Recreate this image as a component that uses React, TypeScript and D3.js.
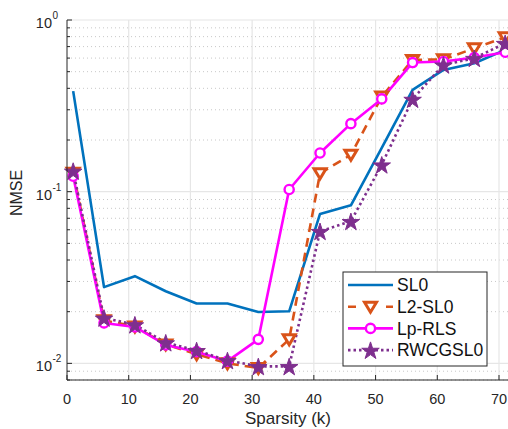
import React from "react"
import * as d3 from "d3"

// sparsity levels (x) and NMSE per method
const sparsity = [1, 6, 11, 16, 21, 26, 31, 36, 41, 46, 51, 56, 61, 66, 71]
const sl0 = [0.385, 0.0278, 0.0322, 0.0263, 0.0223, 0.0223, 0.0199, 0.0201, 0.0742, 0.0833, 0.18, 0.392, 0.512, 0.56, 0.67]
const l2sl0 = [0.129, 0.0178, 0.0164, 0.0129, 0.0113, 0.01, 0.0094, 0.0138, 0.128, 0.164, 0.358, 0.585, 0.59, 0.684, 0.793]
const lpRls = [0.123, 0.0172, 0.0163, 0.0128, 0.0117, 0.0103, 0.0138, 0.103, 0.168, 0.249, 0.347, 0.565, 0.573, 0.604, 0.649]
const rwcgsl0 = [0.132, 0.0184, 0.0168, 0.0132, 0.0119, 0.0104, 0.0096, 0.0096, 0.0588, 0.0672, 0.1435, 0.346, 0.548, 0.599, 0.732]

const xTicks = [0, 10, 20, 30, 40, 50, 60, 70]
const yDecades = [-2, -1, 0]
const seriesNames = ["SL0", "L2-SL0", "Lp-RLS", "RWCGSL0"]

const FONT = "'Liberation Sans', Arial, Helvetica, sans-serif"
const AXIS = "#262626"

const series = [
  { name: seriesNames[0], values: sl0, color: "#0072BD", dash: null, marker: "none" },
  { name: seriesNames[1], values: l2sl0, color: "#D95319", dash: "9,6", marker: "tri" },
  { name: seriesNames[2], values: lpRls, color: "#FF00FF", dash: null, marker: "circle" },
  { name: seriesNames[3], values: rwcgsl0, color: "#7E2F8E", dash: "2.5,3", marker: "star" },
]

const starPath = d3.symbol().type(d3.symbolStar).size(95)()

function Marker({ type, color, x, y }: { type: string; color: string; x: number; y: number }) {
  if (type === "tri")
    return (
      <path
        d="M0,5.5L-6,-4.5L6,-4.5Z"
        transform={`translate(${x},${y})`}
        fill="white"
        stroke={color}
        strokeWidth={3}
        strokeLinejoin="miter"
      />
    )
  if (type === "circle")
    return <circle cx={x} cy={y} r={4.6} fill="white" stroke={color} strokeWidth={2.4} />
  if (type === "star")
    return <path d={starPath || ""} transform={`translate(${x},${y + 1})`} fill={color} stroke={color} strokeWidth={1} />
  return null
}

export default function App() {
  const left = 67
  const top = 20
  const bottom = 380
  const x = d3.scaleLinear().domain([0, 70]).range([left, 499])
  const y = d3.scaleLog().domain([0.008, 1]).range([bottom, top])

  const line = d3
    .line<number>()
    .x((_, i) => x(sparsity[i]))
    .y((d) => y(d))

  // minor log ticks inside the domain
  const minor: number[] = []
  for (const e of [-3, -2, -1]) {
    for (let m = 2; m <= 9; m++) {
      const v = m * Math.pow(10, e)
      if (v >= 0.008 && v < 1) minor.push(v)
    }
  }

  const legX = 343
  const legY = 272
  const rowY = (i: number) => legY + 13 + i * 21.7

  return (
    <svg
      width={508}
      height={429}
      style={{ position: "absolute", left: 0, top: 0, background: "white" }}
      fontFamily={FONT}
    >
      {/* minor grid */}
      {minor.map((v) => (
        <line key={"mg" + v} x1={left} x2={508} y1={y(v)} y2={y(v)} stroke="#c8c8c8" strokeWidth={1} strokeDasharray="1,3" />
      ))}
      {/* major grid */}
      {yDecades.map((e) => (
        <line key={"gy" + e} x1={left} x2={508} y1={y(Math.pow(10, e))} y2={y(Math.pow(10, e))} stroke="#e6e6e6" strokeWidth={1.2} />
      ))}
      {xTicks.slice(1).map((t) => (
        <line key={"gx" + t} x1={x(t)} x2={x(t)} y1={top} y2={bottom} stroke="#e6e6e6" strokeWidth={1.2} />
      ))}

      {/* series lines */}
      {series.map((s) => (
        <path
          key={s.name}
          d={line(s.values) || ""}
          fill="none"
          stroke={s.color}
          strokeWidth={2.6}
          strokeDasharray={s.dash || undefined}
          strokeLinejoin="round"
        />
      ))}
      {/* markers */}
      {series.map((s) =>
        s.values.map((v, i) => <Marker key={s.name + i} type={s.marker} color={s.color} x={x(sparsity[i])} y={y(v)} />)
      )}

      {/* axes */}
      <line x1={left} x2={left} y1={top} y2={bottom} stroke={AXIS} strokeWidth={1} />
      <line x1={left} x2={508} y1={bottom} y2={bottom} stroke={AXIS} strokeWidth={1} />
      {xTicks.map((t) => (
        <g key={"xt" + t}>
          <line x1={x(t)} x2={x(t)} y1={bottom} y2={bottom - 5} stroke={AXIS} />
          <text x={x(t)} y={404} textAnchor="middle" fontSize={14.5} fill={AXIS}>
            {t}
          </text>
        </g>
      ))}
      {minor.map((v) => (
        <line key={"mt" + v} x1={left} x2={left + 3} y1={y(v)} y2={y(v)} stroke={AXIS} />
      ))}
      {yDecades.map((e) => {
        const yy = y(Math.pow(10, e))
        return (
          <g key={"yt" + e}>
            <line x1={left} x2={left + 5} y1={yy} y2={yy} stroke={AXIS} />
            <text x={52} y={yy + 8} textAnchor="end" fontSize={14.5} fill={AXIS}>
              10
            </text>
            <text x={52.5} y={yy - 1} textAnchor="start" fontSize={10} fill={AXIS}>
              {e === 0 ? "0" : "-" + Math.abs(e)}
            </text>
          </g>
        )
      })}

      <text x={288} y={424} textAnchor="middle" fontSize={17} fill={AXIS}>
        Sparsity (k)
      </text>
      <text transform="translate(22,193) rotate(-90)" textAnchor="middle" fontSize={16} fill={AXIS}>
        NMSE
      </text>

      {/* legend */}
      <rect x={legX} y={legY} width={144} height={94} fill="white" stroke={AXIS} strokeWidth={1} />
      {series.map((s, i) => (
        <g key={"lg" + s.name}>
          <line
            x1={348}
            x2={393}
            y1={rowY(i)}
            y2={rowY(i)}
            stroke={s.color}
            strokeWidth={2.6}
            strokeDasharray={s.dash === "9,6" ? "8,11" : s.dash || undefined}
          />
          <Marker type={s.marker} color={s.color} x={370.5} y={rowY(i)} />
          <text x={397} y={rowY(i) + 6.3} fontSize={17.5} fill="#111">
            {s.name}
          </text>
        </g>
      ))}
    </svg>
  )
}
